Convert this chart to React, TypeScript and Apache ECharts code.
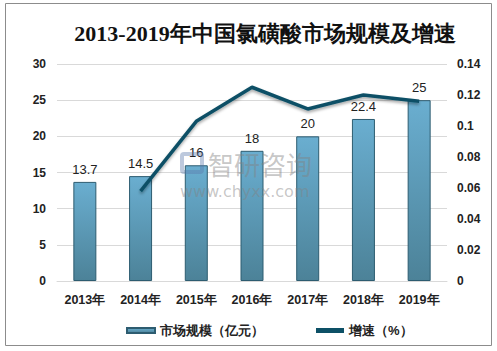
import React, { useEffect, useRef } from "react";
import * as echarts from "echarts";

const years = ["2013年", "2014年", "2015年", "2016年", "2017年", "2018年", "2019年"];
const marketSize = [13.7, 14.5, 16, 18, 20, 22.4, 25];
const growth = [null, 0.058, 0.103, 0.125, 0.111, 0.12, 0.116];
const title = "2013-2019年中国氯磺酸市场规模及增速";
const barName = "市场规模（亿元）";
const lineName = "增速（%）";

export default function App() {
  const ref = useRef<HTMLDivElement>(null);
  useEffect(() => {
    const chart = echarts.init(ref.current!, null, { renderer: "svg" });
    chart.setOption({
      animation: false,
      backgroundColor: "#fff",
      title: {
        text: title,
        left: 260,
        textAlign: "center",
        top: 17,
        textStyle: { fontFamily: "serif", fontSize: 22, fontWeight: "bold", color: "#111" },
      },
      graphic: [
        {
          type: "rect",
          shape: { x: 5.5, y: 3.5, width: 486, height: 342 },
          style: { fill: "none", stroke: "#8c8c8c", lineWidth: 1 },
          z: 100,
        },
        {
          type: "rect",
          shape: { x: 182, y: 154, width: 20, height: 18, r: 2 },
          style: { fill: "none", stroke: "rgba(90,120,170,0.4)", lineWidth: 4 },
          z: 50,
        },
        {
          type: "text",
          x: 208,
          y: 150,
          z: 50,
          style: {
            text: "智研咨询",
            font: "26px 'Noto Sans CJK SC'",
            lineHeight: 26,
            fill: "rgba(130,130,130,0.45)",
          },
        },
        {
          type: "text",
          x: 180,
          y: 183,
          z: 50,
          style: {
            text: "www.chyxx.com",
            font: "16px 'DejaVu Sans'",
            lineHeight: 16,
            fill: "rgba(130,130,130,0.45)",
          },
        },
      ],
      legend: {
        bottom: 9,
        left: 121,
        itemGap: 52,
        itemWidth: 28,
        itemHeight: 5,
        textStyle: { fontSize: 13, fontWeight: "bold", color: "#222" },
        data: [
          { name: barName, icon: "rect" },
          { name: lineName, icon: "rect" },
        ],
      },
      grid: { left: 57, right: 50, top: 64, bottom: 70 },
      xAxis: {
        type: "category",
        data: years,
        axisTick: { show: false },
        axisLine: { lineStyle: { color: "#d9d9d9" } },
        axisLabel: { fontSize: 12.5, fontWeight: "bold", color: "#222", margin: 12 },
      },
      yAxis: [
        {
          type: "value",
          min: 0,
          max: 30,
          interval: 5,
          axisLine: { show: false },
          axisTick: { show: false },
          splitLine: { lineStyle: { color: "#d9d9d9" } },
          axisLabel: { fontSize: 12, fontWeight: "bold", color: "#222", margin: 11 },
        },
        {
          type: "value",
          min: 0,
          max: 0.14,
          interval: 0.02,
          axisLine: { show: false },
          axisTick: { show: false },
          splitLine: { show: false },
          axisLabel: {
            fontSize: 12,
            fontWeight: "bold",
            color: "#222",
            margin: 10,
            formatter: (v: number) => String(Math.round(v * 100) / 100),
          },
        },
      ],
      series: [
        {
          name: barName,
          type: "bar",
          data: marketSize,
          barWidth: 23,
          itemStyle: {
            color: new echarts.graphic.LinearGradient(0, 0, 0, 1, [
              { offset: 0, color: "#6aaed0" },
              { offset: 1, color: "#4c8298" },
            ]),
            borderColor: "#2d5c70",
            borderWidth: 1,
          },
          label: { show: true, position: "top", fontSize: 13, color: "#222", distance: 6 },
        },
        {
          name: lineName,
          type: "line",
          yAxisIndex: 1,
          data: growth,
          symbol: "none",
          lineStyle: {
            color: "#0d5066",
            width: 3.5,
            shadowColor: "rgba(0,0,0,0.35)",
            shadowBlur: 3,
            shadowOffsetY: 2,
          },
          itemStyle: { color: "#0d5066" },
          z: 3,
        },
      ],
    });
    return () => chart.dispose();
  }, []);
  return (
    <div
      ref={ref}
      style={{ position: "fixed", left: 0, top: 0, width: 497, height: 351 }}
    />
  );
}
